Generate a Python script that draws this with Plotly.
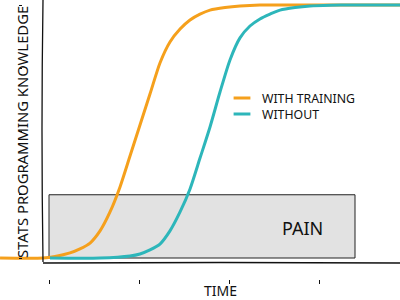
import plotly.graph_objects as go

# ---- data ----
time_with = [-0.544, -0.067, 0.067, 0.233, 0.344, 0.456, 0.567, 0.678, 0.789, 0.900,
             1.011, 1.122, 1.233, 1.344, 1.456, 1.567, 1.678, 1.789, 1.956, 2.122,
             2.344, 2.567, 3.900]
know_with = [0.0, 0.0, 0.006, 0.02, 0.036, 0.059, 0.107, 0.182, 0.281, 0.403,
             0.526, 0.648, 0.771, 0.854, 0.905, 0.941, 0.964, 0.98, 0.99, 0.996,
             1.0, 1.0, 1.0]

time_without = [0.011, 0.567, 0.900, 1.011, 1.122, 1.233, 1.344, 1.456, 1.567, 1.678,
                1.789, 1.900, 2.011, 2.122, 2.233, 2.344, 2.456, 2.567, 2.733, 2.900,
                3.122, 3.344, 3.900]
know_without = [0.0, 0.0, 0.008, 0.016, 0.032, 0.055, 0.107, 0.182, 0.273, 0.395,
                0.518, 0.656, 0.783, 0.87, 0.917, 0.945, 0.964, 0.98, 0.99, 0.996,
                0.999, 1.0, 1.0]

pain_x = [0.0, 3.4]
pain_y = [0.0, 0.25]
pain_label = "PAIN"

series_names = ["WITH TRAINING", "WITHOUT"]
series_colors = ["#F5A01C", "#2DB6BA"]

x_ticks = [0, 1, 2, 3]
y_ticks = [0, 0.25, 0.5, 0.75, 1.0]

x_title = "TIME"
y_title = "STATS PROGRAMMING KNOWLEDGE"

FONT = "Noto Sans"
W, H = 400, 300

fig = go.Figure()

# pain region
fig.add_trace(go.Scatter(
    x=[pain_x[0], pain_x[1], pain_x[1], pain_x[0], pain_x[0]],
    y=[pain_y[0], pain_y[0], pain_y[1], pain_y[1], pain_y[0]],
    mode="lines", fill="toself", fillcolor="#E2E2E2",
    line=dict(color="#222222", width=1), showlegend=False, hoverinfo="skip"))

fig.add_trace(go.Scatter(x=time_with, y=know_with, mode="lines",
                         line=dict(color=series_colors[0], width=3, shape="spline", smoothing=0.7),
                         showlegend=False, name=series_names[0]))
fig.add_trace(go.Scatter(x=time_without, y=know_without, mode="lines",
                         line=dict(color=series_colors[1], width=3, shape="spline", smoothing=0.7),
                         showlegend=False, name=series_names[1]))

# legend entries with short line samples (one legend per entry for exact spacing)
for i, (nm, col) in enumerate(zip(series_names, series_colors)):
    fig.add_trace(go.Scatter(x=[None], y=[None], mode="markers", name=nm,
                             legend="legend" if i == 0 else "legend2",
                             marker=dict(symbol="line-ew", size=12,
                                         line=dict(color=col, width=3))))

fig.add_annotation(x=pain_x[1] - 0.58, y=(pain_y[0] + pain_y[1]) / 2 - 0.006,
                   xref="x", yref="y", text=pain_label, showarrow=False,
                   font=dict(family=FONT, size=18, color="#111111"))

# spines (xkcd-like slightly wobbly)
def px(xp, yp):
    return xp / W, 1 - yp / H

x0, y0 = px(43, 0)
xm, ym = px(41, 130)
x1, y1 = px(43, 262)
fig.add_shape(type="path", xref="paper", yref="paper",
              path=f"M {x0} {y0} Q {xm} {ym} {x1} {y1}",
              line=dict(color="#111111", width=1.3))
a0, b0 = px(43, 263)
am, bm = px(220, 262)
a1, b1 = px(400, 263)
fig.add_shape(type="path", xref="paper", yref="paper",
              path=f"M {a0} {b0} Q {am} {bm} {a1} {b1}",
              line=dict(color="#111111", width=1.3))

fig.add_annotation(x=10 / W, y=1 - 132 / H, xref="paper", yref="paper",
                   text=y_title, textangle=-90, showarrow=False,
                   font=dict(family=FONT, size=14.8, color="#111111"))
fig.add_annotation(x=220 / W, y=1 - 290 / H, xref="paper", yref="paper",
                   yanchor="middle", text=x_title, showarrow=False,
                   font=dict(family=FONT, size=14, color="#111111"))

legend_common = dict(xanchor="left", yanchor="middle", bgcolor="rgba(0,0,0,0)",
                     font=dict(family=FONT, size=12.3, color="#111111"), itemwidth=30)

fig.update_layout(
    width=W, height=H, margin=dict(l=0, r=0, t=0, b=0),
    paper_bgcolor="white", plot_bgcolor="white",
    font=dict(family=FONT, color="#111111"),
    xaxis=dict(range=[-0.5444, 3.9], showgrid=False, zeroline=False, showline=False,
               tickvals=x_ticks, showticklabels=False, ticks="outside", ticklen=4,
               tickwidth=1.2, tickcolor="#111111", anchor="free", position=21 / H),
    yaxis=dict(range=[-0.166, 1.0198], showgrid=False, zeroline=False, showline=False,
               tickvals=y_ticks, showticklabels=False, ticks="outside", ticklen=3,
               tickwidth=1.2, tickcolor="#111111", anchor="free", position=22 / W),
    legend=dict(x=222 / W, y=1 - 98 / H, **legend_common),
    legend2=dict(x=222 / W, y=1 - 114 / H, **legend_common),
    showlegend=True,
)

fig.write_html("out.html")
